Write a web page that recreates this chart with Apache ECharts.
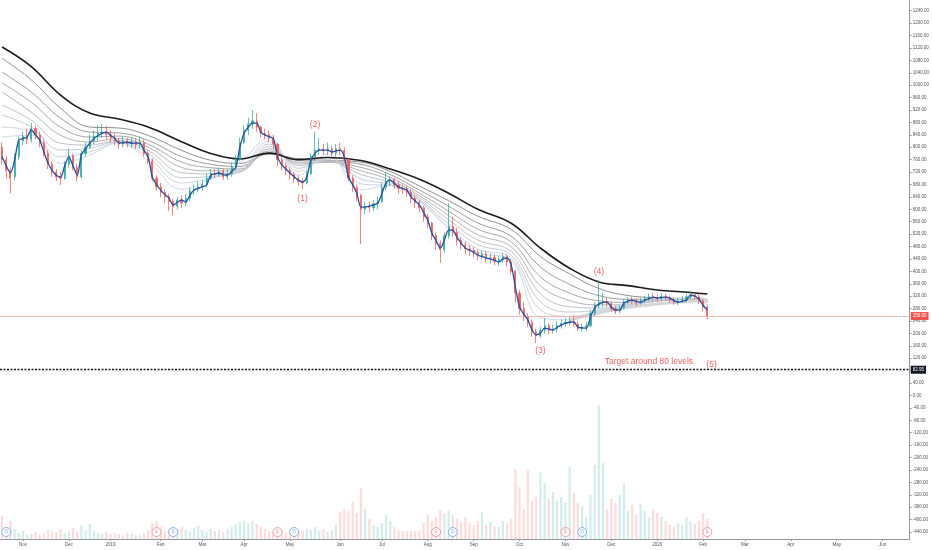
<!DOCTYPE html>
<html>
<head>
<meta charset="utf-8">
<title>Price chart with MA ribbon</title>
<script src="https://cdn.jsdelivr.net/npm/echarts@6/dist/echarts.min.js"></script>
<style>
  html, body { margin: 0; padding: 0; background: #fff; }
  #chart { width: 932px; height: 550px; }
</style>
</head>
<body>
<div id="chart"></div>
<script>
// every other trading day, Oct 2018 .. Jun 2020
const days = [];
for (let d = new Date(Date.UTC(2018, 9, 19)), n = 0; days.length < 218; d.setUTCDate(d.getUTCDate() + 1)) {
  const wd = d.getUTCDay();
  if (wd === 0 || wd === 6) continue;
  if (n++ % 2 === 0) days.push(d.toISOString().slice(0, 10));
}
const monthNames = ['Jan', 'Feb', 'Mar', 'Apr', 'May', 'Jun', 'Jul', 'Aug', 'Sep', 'Oct', 'Nov', 'Dec'];

// [open, close, low, high]
const candles = [
  [800,760,745,815],[760,725,700,770],[725,700,652,735],[705,770,695,780],[770,820,760,835],
  [820,835,805,850],[835,825,810,860],[825,860,815,878],[860,840,825,870],[840,815,800,850],
  [815,780,770,825],[780,745,730,790],[745,720,705,755],[720,705,690,730],[705,700,678,720],
  [700,745,695,755],[745,772,735,795],[772,735,725,780],[735,705,690,745],[705,780,700,790],
  [780,800,770,815],[800,820,795,840],[820,835,810,855],[835,845,820,870],[845,850,830,875],
  [850,840,825,868],[840,830,815,855],[830,820,805,845],[820,810,795,830],[810,820,800,835],
  [820,812,800,830],[812,818,798,832],[818,808,795,828],[808,815,795,835],[815,780,770,825],
  [780,755,745,790],[755,700,690,765],[700,672,660,710],[672,655,640,685],[655,640,620,665],
  [640,625,595,650],[625,610,580,635],[610,630,600,640],[630,620,605,645],[620,635,610,650],
  [635,660,625,670],[660,665,645,680],[665,672,655,690],[672,680,660,695],[680,700,670,715],
  [700,715,695,730],[715,712,700,730],[712,722,705,735],[722,705,695,730],[705,715,695,728],
  [715,735,705,750],[735,760,725,775],[760,815,755,830],[815,855,810,870],[855,875,840,895],
  [875,885,860,920],[885,865,850,910],[865,845,830,870],[845,840,825,860],[840,830,815,855],
  [830,810,795,840],[810,760,740,815],[760,740,725,770],[740,725,710,750],[725,712,695,735],
  [712,698,685,720],[698,690,675,710],[690,685,665,700],[685,715,680,725],[715,770,710,780],
  [770,790,765,849],[790,795,775,830],[795,788,775,810],[788,795,775,815],[795,780,770,805],
  [780,795,770,810],[795,790,775,815],[790,760,750,800],[760,700,690,765],[700,670,655,710],
  [670,645,625,680],[645,600,488,650],[600,610,585,625],[610,605,590,625],[605,618,595,630],
  [618,625,600,640],[625,670,620,685],[670,690,660,720],[690,695,675,705],[695,678,665,700],
  [678,668,650,690],[668,665,650,680],[665,655,640,675],[655,635,620,665],[635,622,605,645],
  [622,605,590,630],[605,575,560,610],[575,555,540,585],[555,515,500,560],[515,490,470,525],
  [490,470,427,500],[470,515,460,525],[515,545,505,620],[545,525,510,575],[525,500,485,540],
  [500,485,470,510],[485,472,455,495],[472,468,450,485],[468,460,445,478],[460,450,435,470],
  [450,455,438,468],[455,440,428,465],[440,445,425,458],[445,432,420,455],[432,438,418,450],
  [438,448,428,460],[448,430,415,455],[430,400,390,440],[400,330,300,405],[330,280,260,340],
  [280,255,240,300],[255,235,220,265],[235,205,190,245],[205,192,169,215],[192,210,185,222],
  [210,225,200,250],[225,210,198,232],[210,215,200,228],[215,225,205,240],[225,232,215,245],
  [232,236,222,250],[236,240,225,255],[240,230,222,258],[230,215,208,238],[215,220,205,232],
  [220,225,208,238],[225,265,220,275],[265,290,255,300],[290,300,280,372],[300,302,285,330],
  [302,296,285,315],[296,280,270,302],[280,272,262,288],[272,282,265,292],[282,300,278,310],
  [300,308,295,318],[308,303,295,318],[303,300,290,312],[300,306,292,315],[306,312,298,322],
  [312,318,305,328],[318,315,305,330],[315,312,302,325],[312,320,305,330],[320,315,305,328],
  [315,308,298,322],[308,300,292,315],[300,305,292,314],[305,310,298,320],[310,318,302,328],
  [318,325,310,335],[325,318,308,332],[318,305,295,328],[305,285,270,310],[285,256,246,290]
];

// fast moving average (blue), one value per bar
const fastMa = [
  769,740,717,759,823,828,833,856,840,823, 785,749,725,710,704,740,769,740,710,775,
  795,813,828,838,845,849,838,829,813,815, 816,813,813,813,790,769,704,680,662,648,
  636,614,622,630,624,645,662,668,673,678, 710,714,717,712,710,722,736,801,846,865,
  878,878,849,839,834,829,769,743,730,717, 705,694,688,704,759,781,791,791,791,785,
  788,791,769,704,680,652,607,607,610,614, 620,650,685,694,684,672,667,662,640,627,
  614,590,565,523,500,475,501,533,533,510, 491,475,468,462,452,448,443,440,436,430,
  440,443,420,349,285,262,243,211,195,201, 217,214,211,220,227,233,236,237,220,218,
  217,253,282,295,300,301,285,275,275,298, 304,307,304,301,307,312,317,314,316,317,
  314,306,301,304,307,323,320,310,290,275
];

const volume = [
  23,12,18,10,6,8,4,5,7,4, 6,9,8,7,10,6,8,11,7,14, 9,15,8,6,5,7,5,6,5,4,
  6,5,4,4,6,9,16,18,12,8, 9,8,10,12,9,7,11,13,9,7, 10,8,9,7,10,12,15,17,18,16,
  18,15,12,10,8,7,11,9,6,7, 5,8,9,10,9,12,8,10,7,9, 14,27,30,28,37,26,51,30,20,14,
  12,16,24,18,12,9,8,8,8,8, 8,16,24,18,22,29,26,28,24,20, 17,22,16,14,18,27,14,17,13,12,
  18,16,20,70,52,30,69,38,42,67, 56,40,47,38,42,36,72,46,36,32, 22,44,74,134,76,30,40,36,44,56,
  28,34,24,35,28,22,30,26,22,18, 14,12,16,14,22,17,15,18,26,20
];

// slower averages read at these bar positions
const maIdx = [0,7,14,21,28,35,43,50,57,64,71,78,86,93,100,107,114,122,129,136,143,150,157,165,169];
const maSlow = [1123,1060,968,910,891,865,818,780,762,781,760,767,757,730,697,652,600,555,475,410,366,354,340,332,327];
const ma1 = [1087,1017,926,865,862,838,790,758,748,778,763,758,752,722,675,628,578,535,448,392,345,322,315,312,310];
const ma2 = [1042,978,894,849,846,822,770,745,738,782,758,755,745,712,662,610,556,513,414,358,322,310,310,311,309];
const ma3 = [1007,945,865,833,836,810,752,734,730,788,752,752,735,703,652,594,536,495,382,330,305,300,306,310,307];
const ma4 = [978,913,839,817,828,800,735,724,724,795,746,752,724,694,644,580,518,479,354,306,292,294,304,310,305];
const ma5 = [936,887,813,807,822,790,718,714,720,802,740,755,712,686,638,566,501,464,328,286,282,290,304,311,302];
const ma6 = [904,865,791,797,818,780,702,706,722,810,732,760,698,680,632,553,486,452,302,269,275,290,306,312,298];
const ma7 = [865,849,769,785,815,768,685,700,730,820,722,768,682,676,628,543,472,443,276,255,272,293,309,313,292];
const ma8 = [833,839,749,775,814,755,665,698,750,830,710,778,662,678,625,536,462,436,250,244,275,298,312,314,284];
const thickIdx = [136,143,150,157,165,169];
const maThick = [244,266,284,295,304,306];

const lastPrice = 256;
const targetLevel = 82.95;
const priceTicks = [-440,-400,-360,-320,-280,-240,-200,-160,-120,-80,-40,0,40,80,120,160,200,240,280,320,
  360,400,440,480,520,560,600,640,680,720,760,800,840,880,920,960,1000,1040,1080,1120,1160,1200,1240];

const dividendIdx = [1, 41, 70, 108, 139];
const earningsIdx = [37, 66, 104, 135, 169];
const waveLabels = [[72, 633, '(1)'], [75, 872, '(2)'], [129, 143, '(3)'], [143, 398, '(4)'], [170, 98, '(5)'], [155, 109, 'Target around 80 levels']];

const ribbonColors = ['#8f8f8f', '#9c9c9c', '#a8a8a8', '#b4b4b4', '#bfc2c9', '#c5cad6', '#cbd2e2', '#d0d8ea'];
const up = '#26a69a', down = '#ef5350';
const axisColor = '#9598a1', labelColor = '#50535e';

function monthStart(i) {
  return i > 0 && days[i].slice(5, 7) !== days[i - 1].slice(5, 7);
}
function monthLabel(v) {
  const m = +v.slice(5, 7);
  return m === 1 ? v.slice(0, 4) : monthNames[m - 1];
}
const pairs = (idx, vals) => idx.map((x, k) => [x, vals[k]]);

const ribbon = [ma1, ma2, ma3, ma4, ma5, ma6, ma7, ma8].map((vals, k) => ({
  type: 'line',
  data: pairs(maIdx, vals),
  smooth: 0.4,
  showSymbol: false,
  silent: true,
  z: 2,
  lineStyle: { width: 1, color: ribbonColors[k] }
}));

const eventSeries = (idx, text, color) => ({
  type: 'scatter',
  data: idx.map(i => [i, -440]),
  symbol: 'circle',
  symbolSize: 9,
  z: 8,
  silent: true,
  itemStyle: { color: '#fff', borderColor: color, borderWidth: 1 },
  label: { show: true, position: 'inside', formatter: text, color: color, fontSize: 5 }
});

let chart = echarts.init(document.getElementById('chart'));
chart.setOption({
  animation: false,
  backgroundColor: '#ffffff',
  textStyle: { fontFamily: 'Liberation Sans' },
  grid: { left: 0, right: 22, top: 0, bottom: 11 },
  xAxis: {
    type: 'category',
    data: days,
    axisLine: { onZero: false, lineStyle: { color: axisColor } },
    axisTick: { show: true, interval: monthStart, alignWithLabel: true, length: 2, lineStyle: { color: axisColor } },
    axisLabel: { interval: monthStart, formatter: monthLabel, fontSize: 4.5, color: labelColor, margin: 3 },
    splitLine: { show: false }
  },
  yAxis: [
    {
      type: 'value',
      position: 'right',
      min: -462.5,
      max: 1274.5,
      axisLine: { show: true, lineStyle: { color: axisColor } },
      axisTick: { show: true, customValues: priceTicks, length: 2, lineStyle: { color: axisColor } },
      axisLabel: { customValues: priceTicks, formatter: v => v.toFixed(2), fontSize: 4.5, color: labelColor, margin: 3 },
      splitLine: { show: false }
    },
    { type: 'value', min: 0, max: 539, show: false }
  ],
  series: [
    {
      type: 'bar',
      yAxisIndex: 1,
      data: volume,
      barWidth: '55%',
      silent: true,
      z: 1,
      itemStyle: {
        color: p => candles[p.dataIndex][1] >= candles[p.dataIndex][0] ? 'rgba(38,166,154,0.2)' : 'rgba(239,83,80,0.2)'
      }
    },
    ...ribbon,
    {
      type: 'line',
      data: pairs(thickIdx, maThick),
      smooth: 0.4,
      showSymbol: false,
      silent: true,
      z: 2,
      lineStyle: { width: 3, color: '#d6d6d6' }
    },
    {
      type: 'line',
      data: pairs(maIdx, maSlow),
      smooth: 0.4,
      showSymbol: false,
      silent: true,
      z: 3,
      lineStyle: { width: 1.6, color: '#1a1a1a' }
    },
    {
      type: 'candlestick',
      data: candles,
      barMaxWidth: 1.6,
      z: 4,
      silent: true,
      itemStyle: { color: up, color0: down, borderColor: up, borderColor0: down, borderWidth: 0.8, opacity: 0.9 },
      markLine: {
        symbol: 'none',
        silent: true,
        animation: false,
        data: [
          {
            yAxis: lastPrice,
            lineStyle: { color: '#f5a5a3', width: 0.8, type: 'solid' },
            label: { position: 'end', formatter: lastPrice.toFixed(2), backgroundColor: down, color: '#fff', fontSize: 4.5, padding: [1.5, 2], distance: 1 }
          },
          {
            yAxis: targetLevel,
            lineStyle: { color: '#131722', width: 1.3, type: [2, 1.5] },
            label: { position: 'end', formatter: targetLevel.toFixed(2), backgroundColor: '#131722', color: '#fff', fontSize: 4.5, padding: [1.5, 2], distance: 1 }
          }
        ]
      }
    },
    {
      type: 'line',
      data: fastMa,
      smooth: 0.3,
      showSymbol: false,
      silent: true,
      z: 5,
      lineStyle: { width: 1.3, color: '#2350a0' }
    },
    eventSeries(dividendIdx, 'D', '#64a8f0'),
    eventSeries(earningsIdx, 'E', '#ef8a9a'),
    {
      type: 'scatter',
      data: waveLabels.map(w => ({ value: [w[0], w[1]], label: { formatter: w[2] } })),
      symbolSize: 1,
      silent: true,
      z: 9,
      itemStyle: { color: 'rgba(0,0,0,0)' },
      label: { show: true, position: 'inside', color: '#e53935', fontSize: 8.5 }
    }
  ]
});
window.addEventListener('resize', function () {
  chart.resize();
});
</script>
</body>
</html>
